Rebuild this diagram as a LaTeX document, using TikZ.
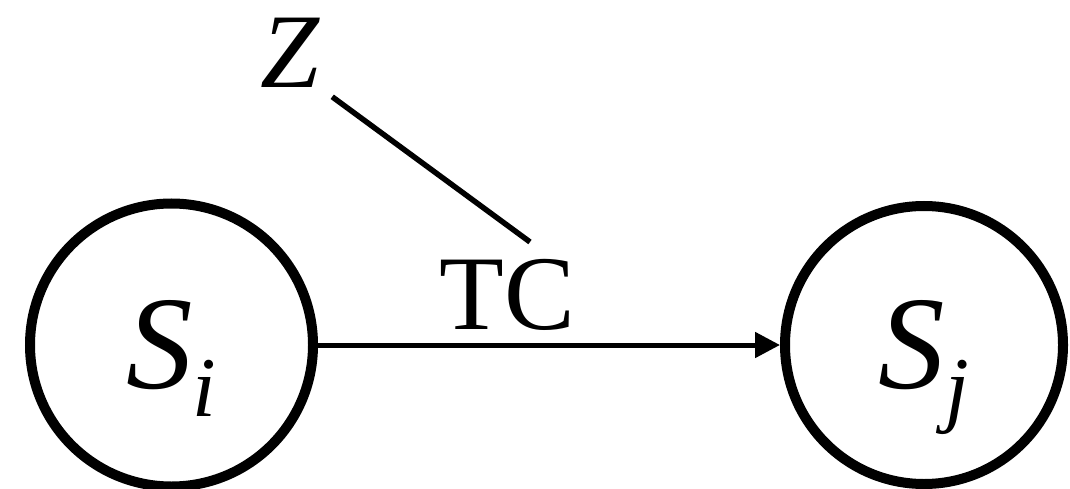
\documentclass[tikz,border=0pt]{standalone}
\usepackage{fontspec}
\setmainfont{Liberation Serif}
\usetikzlibrary{arrows.meta, positioning}
\newcommand{\statelbl}[2]{{\fontsize{133}{140}\selectfont\itshape #1}%
  \raisebox{-28pt}[0pt][0pt]{\fontsize{85}{90}\selectfont\itshape #2}}
\begin{document}
\begin{tikzpicture}[x=1pt, y=-1pt,
  statenode/.style={circle, draw, line width=10pt, inner sep=0pt},
  biglbl/.style={inner sep=0pt, font=\fontsize{106}{110}\selectfont}]
  \useasboundingbox (0,0) rectangle (1070,489);
  \node[statenode, minimum size=283pt] (si) at (171.5,345) {\statelbl{S}{i}};
  \node[statenode, minimum size=278pt] (sj) at (924,345) {\statelbl{S}{j}};
  \node[biglbl] (z) at (290,53) {\textit{Z}};
  \coordinate (zfoot) at (530,242);
  \draw[line width=5pt, -{Triangle[length=25pt, width=25pt]}] (si) -- (sj)
    node[biglbl, pos=0.41, above=12pt] (tc) {TC};
  \draw[line width=5.5pt, shorten <=15pt] (z.south east) -- (zfoot);
\end{tikzpicture}
\end{document}
